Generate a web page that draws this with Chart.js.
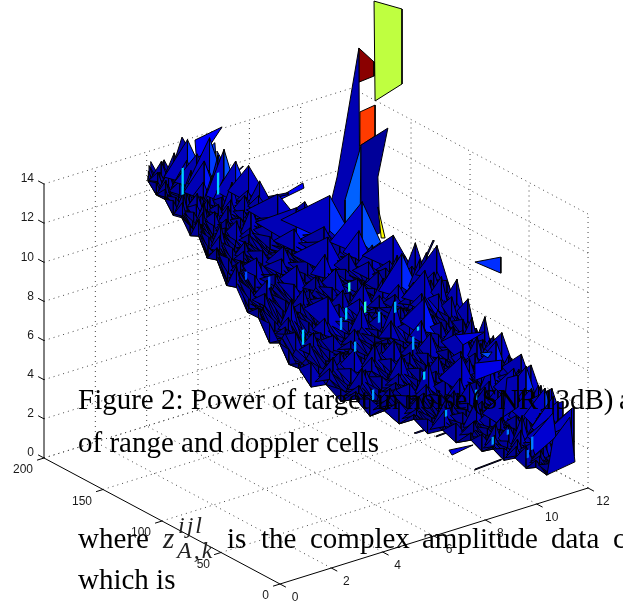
<!DOCTYPE html>
<html>
<head>
<meta charset="utf-8">
<title>Power of target in noise</title>
<script src="https://cdn.jsdelivr.net/npm/chart.js@4"></script>
<style>
  html, body { margin: 0; padding: 0; background: #fff; overflow: hidden; }
  canvas { display: block; }
</style>
</head>
<body>
<canvas id="surfaceChart" width="623" height="606"></canvas>
<script>
/* axis ticks */
const dopplerTicks = [0, 2, 4, 6, 8, 10, 12];
const rangeTicks = [0, 50, 100, 150, 200];
const powerTicks = [0, 2, 4, 6, 8, 10, 12, 14];

/* caption around the figure, cut off at the right edge as in the picture */
const captionFirst = ["Figure 2: Power of target in noise", "(SNR", "13dB)", "a"];
const captionSecond = "of range and doppler cells";
const bodyWords = ["where", "is", "the", "complex", "amplitude", "data", "c"];
const bodySecond = "which is";

/* surface mesh, one entry per range row (back to front) */
const rowRange = [200,195,190,185,180,175,170,165,160,155,150,145,140,135,130,125,120,115,110,105,100,95,90,85,80,75,70,65,60,55,50,45,40,35,30,25];
const rowDopplerLow = [4.05,4.15,4.25,4.35,4.45,4.55,4.65,4.75,4.9,5.05,5.2,5.4,5.6,5.8,5.95,6.1,6.25,6.5,6.85,7.2,7.55,7.87,8.2,8.55,8.9,9.2,9.55,9.85,10.2,10.4,10.6,10.8,11,11.2,11.35,11.55];
const rowDopplerHigh = [4.2,4.45,4.65,4.9,5.1,5.3,5.4,5.55,5.7,5.9,6.1,6.7,7.4,8.14,8.55,8.95,9.4,9.7,9.9,10.1,10.3,10.48,10.65,10.8,11,11.1,11.2,11.3,11.4,11.55,11.7,11.85,12,12.2,12.4,12.6];
const rowFloorLow = [12.5,11.9,11.8,11.1,11.1,10.3,10.4,9.4,9.4,8.2,8.2,7,6.8,5.6,5.7,4.7,4.6,3.7,3.85,3,3.15,2.3,2.6,1.95,2.2,1.5,1.7,1.1,1.25,0.75,0.95,0.45,0.65,0.2,0.35,0.03];
const rowFloorHigh = [12.6,12.7,12.6,12.5,12.5,12.5,12.6,12.5,12.3,12.1,11.9,11.2,10.5,9.8,9.5,9.1,8.6,8.4,8.35,8.3,8.25,8.2,7.5,6.8,6,5.6,5.2,4.85,4.5,4.05,3.6,3.15,2.7,2,1.3,0.6];

/* power above the floor, tenths, 12 doppler cells per row */
const cellPower = [
  [2,4,1,6,3,0,5,2,7,1,4,2],
  [5,1,8,2,0,6,3,9,2,5,0,7],
  [1,7,0,4,9,2,5,1,6,3,12,4],
  [6,2,5,1,3,8,0,10,3,7,2,18],
  [0,9,3,7,1,4,12,2,6,1,14,5],
  [4,1,6,0,10,2,5,3,16,4,8,20],
  [7,3,0,8,2,6,1,11,4,9,3,13],
  [1,6,4,2,9,0,7,3,5,22,6,10],
  [5,0,10,3,1,5,8,2,13,4,17,3],
  [2,8,1,6,4,11,0,6,2,9,5,15],
  [9,3,5,0,7,2,4,12,3,7,1,11],
  [0,6,2,12,1,8,3,1,9,4,14,6],
  [4,1,9,3,5,0,10,5,2,16,3,12],
  [8,5,0,6,2,13,1,7,4,1,10,19],
  [1,3,11,2,8,4,6,0,15,5,8,4],
  [6,9,1,5,0,7,3,11,2,9,3,22],
  [2,0,7,3,14,1,9,4,6,1,12,9],
  [10,4,2,8,1,5,0,12,3,8,5,14],
  [0,7,5,1,6,11,4,2,10,3,11,7],
  [5,2,12,4,0,3,8,1,6,18,4,13],
  [3,8,0,9,5,2,13,6,1,7,12,10],
  [7,1,6,2,11,4,0,9,3,14,5,14],
  [1,5,3,10,0,7,2,16,5,1,12,6],
  [9,0,8,1,6,3,12,0,8,4,10,13],
  [2,6,4,13,2,9,1,5,11,2,7,12],
  [6,3,0,5,8,1,7,3,14,6,12,4],
  [0,10,2,7,3,15,0,8,2,11,5,13],
  [8,1,6,4,12,2,6,1,10,4,11,9],
  [3,5,11,0,5,8,3,13,2,16,6,14],
  [7,0,4,9,1,6,10,0,7,3,12,8],
  [1,8,2,6,14,3,1,9,15,5,10,14],
  [5,3,10,1,4,7,12,4,2,18,6,14],
  [0,6,1,12,2,9,5,16,8,3,12,10],
  [9,2,7,3,11,0,13,3,20,7,10,15],
  [3,0,5,8,1,15,6,22,4,18,9,16],
  [0,4,1,2,6,3,10,5,14,8,20,20]
];

/* the peak and the loose cells, drawn behind the mesh */
const patchRange = [110,110,110,110,110,110,110,110,110,110,110,110,110,110,110,110,60,60,60,30];
const patchLevel = [0.5625,0.99,0.8175,0.05,0.22,0.025,0.625,0.125,0.17,0.17,0.04,0.17,0.12,0.03,0.03,0.03,0.08,0.03,0.1,0.03];
const patchDoppler = [
  [8.72,9.81,9.81,8.76],
  [8.13,8.72,8.72,8.13],
  [8.17,8.76,8.76,8.17],
  [8.13,7.28,7,6.54,8.17],
  [8.21,7.59,7.59,8.17],
  [8.21,9.26,8.87,8.95,8.21],
  [8.87,9.15,9],
  [1.745,2.8,1.82],
  [12.65,13.66,13.66],
  [1.43,2.52,2.6,1.55],
  [1.24,1.86,1.35,0.77],
  [2.6,3.42,2.6],
  [4.86,5.95,5.99,4.94],
  [4.51,5.37,5.37,4.59],
  [3.22,3.61,3.61,3.22],
  [10.63,11.02,11.05,10.67],
  [7.98,8.6,8.68,8.06],
  [8.84,9.26,9.26,8.84],
  [9.34,10.28,9.46],
  [8.97,9.99,9.99,8.97]
];
const patchPower = [
  [22.68,21.83,18,17.56],
  [20.52,19.57,18.85,18.78],
  [17.24,17.35,15.77,15.5],
  [20.52,14.28,12.86,11.72,10.69],
  [15.48,12.98,11.55,10.54],
  [15.53,15.97,13.63,10.74,10.53],
  [12.1,10.4,10.46],
  [18.43,18.67,17.12],
  [7.74,7.58,6.76],
  [17.13,17.98,16.4,15.96],
  [18.79,17.11,15.78,17.04],
  [17.52,15.29,16.4],
  [14.1,14.52,14.24,14],
  [14.39,14.26,14.16,14.26],
  [16.04,16.34,16.29,15.99],
  [8.57,9.53,9.45,8.49],
  [2.52,2.56,2.48,2.47],
  [2.02,2.05,2,1.97],
  [1.09,0.97,0.79],
  [1.24,1.33,1.28,1.19]
];

/* large faces in front of the mesh at the near end */
const frontRange = [60,60,60,60,25,25];
const frontLevel = [0.05,0.1,0.1,0.2,0.08,0.06];
const frontDoppler = [
  [11.6,12.03,12.03,11.45],
  [9.58,10.74,9.89],
  [10.35,11.4,11.4,10.35],
  [10.55,11.02,10.86],
  [10.89,11.78,11.9,11.08],
  [11.55,12.64,12.44,11.78]
];
const frontPower = [
  [3.85,3.83,2.19,1.92],
  [6.88,6.56,6.24],
  [5.12,4.85,4.34,4.24],
  [5.56,5.42,5.18],
  [2.11,3.12,1.85,1.26],
  [0.05,0.27,2.64,1.74]
];

/* narrow bright cells showing through the mesh */
const sliverRange = [110,110,110,110,110,110,110,110,110,110,110,110,110,110,110,60,60,30,30,60,110,110];
const sliverDoppler = [5.91,7.39,7.59,7.94,8.87,9.5,10.2,8.64,12.65,10.63,4.59,3.69,7.71,8.33,10.39,9.18,11,11.16,10.99,11.59,1.22,2.6];
const sliverTop = [7.02,7.03,7.46,5.58,6.73,6.99,4.91,2.84,1.2,2.95,10.27,10.89,8.69,7.46,5.34,3.2,1.07,1.98,1.38,1.2,17.2,16.4];
const sliverBottom = [6.25,6.41,6.85,5.07,6.17,6.42,4.25,2.32,0.68,2.54,9.71,10.48,8.23,6.9,5.14,2.85,0.67,1.32,0.97,0.94,15.84,15.28];
const sliverLevel = [0.33,0.28,0.33,0.28,0.28,0.3,0.28,0.28,0.28,0.33,0.2,0.2,0.42,0.42,0.33,0.28,0.28,0.25,0.22,0.25,0.33,0.33];

/* oblique view of the box: chart x,y from doppler, range, power */
function project(doppler, range, power) {
  return {
    x: 280 + 25.67 * doppler - 1.18 * range,
    y: 584 - 8 * doppler - 0.63 * range - 19.57 * power
  };
}

/* jet colormap */
function jet(t) {
  const c = v => Math.round(255 * Math.min(1, Math.max(0, v)));
  return "rgb(" + c(1.5 - Math.abs(4 * t - 3)) + "," + c(1.5 - Math.abs(4 * t - 2)) + "," + c(1.5 - Math.abs(4 * t - 1)) + ")";
}

function lineSet(a, b, dotted) {
  return {
    data: [a, b],
    showLine: true,
    pointRadius: 0,
    fill: false,
    borderWidth: 1,
    borderColor: dotted ? "#444" : "#000",
    borderDash: dotted ? [1, 4] : []
  };
}

function polySet(points, level) {
  return {
    data: points.concat([points[0]]),
    showLine: true,
    pointRadius: 0,
    tension: 0,
    fill: "shape",
    backgroundColor: jet(level),
    borderColor: "#000",
    borderWidth: 1
  };
}

// painter order: everything is pushed back to front, then reversed for Chart.js
const layers = [];
const topPower = powerTicks[powerTicks.length - 1];
const lastDoppler = dopplerTicks[dopplerTicks.length - 1];
const lastRange = rangeTicks[rangeTicks.length - 1];

powerTicks.forEach(p => {
  layers.push(lineSet(project(0, lastRange, p), project(lastDoppler, lastRange, p), true));
  layers.push(lineSet(project(lastDoppler, 0, p), project(lastDoppler, lastRange, p), true));
});
dopplerTicks.forEach(d => {
  if (d > 0) {
    layers.push(lineSet(project(d, lastRange, 0), project(d, lastRange, topPower), true));
    layers.push(lineSet(project(d, 0, 0), project(d, lastRange, 0), true));
  }
});
rangeTicks.forEach(r => {
  layers.push(lineSet(project(lastDoppler, r, 0), project(lastDoppler, r, topPower), true));
  if (r > 0) layers.push(lineSet(project(0, r, 0), project(lastDoppler, r, 0), true));
});

// solid axes and tick marks
layers.push(lineSet(project(0, lastRange, 0), project(0, lastRange, topPower), false));
layers.push(lineSet(project(0, lastRange, 0), project(0, 0, 0), false));
layers.push(lineSet(project(0, 0, 0), project(lastDoppler, 0, 0), false));
powerTicks.forEach(p => layers.push(lineSet(project(0, lastRange, p), project(0, lastRange + 5, p), false)));
rangeTicks.forEach(r => layers.push(lineSet(project(0, r, 0), project(-0.27, r, 0), false)));
dopplerTicks.forEach(d => layers.push(lineSet(project(d, 0, 0), project(d, -5, 0), false)));

patchDoppler.forEach((us, i) => {
  layers.push(polySet(us.map((u, k) => project(u, patchRange[i], patchPower[i][k])), patchLevel[i]));
});

const colCount = cellPower[0].length;
const rowCount = rowRange.length;

// col may be fractional, lift is in power units above the floor
function floorPoint(row, col, lift) {
  const f = col / (colCount - 1);
  const u = rowDopplerLow[row] + (rowDopplerHigh[row] - rowDopplerLow[row]) * f;
  const floor = rowFloorLow[row] + (rowFloorHigh[row] - rowFloorLow[row]) * f;
  return project(u, rowRange[row], floor + lift);
}

function meshPoint(row, col, k) {
  return floorPoint(row, col, k * cellPower[row][col] / 10);
}

// two facets meeting in an upright edge
function pushPeak(row, col, span, lift, leftLevel, rightLevel) {
  const tip = floorPoint(row, col, lift);
  const foot = floorPoint(row, col, 0);
  if (row >= span) layers.push(polySet([floorPoint(row - span, col, 0), tip, foot], leftLevel));
  if (row + span < rowCount) layers.push(polySet([tip, floorPoint(row + span, col, 0), foot], rightLevel));
}

for (let row = 0; row < rowCount; row++) {
  for (let col = colCount - 1; col >= 0; col--) {
    if (row < rowCount - 1 && col < colCount - 1) {
      const mean = (cellPower[row][col] + cellPower[row][col + 1] + cellPower[row + 1][col] + cellPower[row + 1][col + 1]) / 4;
      layers.push(polySet([meshPoint(row, col, 0.3), meshPoint(row, col + 1, 0.3), meshPoint(row + 1, col + 1, 0.3), meshPoint(row + 1, col, 0.3)], mean / 220));
      // smaller peak between two neighbouring cells
      const step = Math.abs(cellPower[row][col] - cellPower[row][col + 1]);
      if (step >= 3) pushPeak(row, col + 0.5, 1, 0.8 * step / 10, step / 300, step / 190);
    }
    const h = cellPower[row][col];
    if (h >= 1) pushPeak(row, col, h >= 14 ? 2 : 1, 1.25 * h / 10, h / 300, h >= 16 ? h / 110 : h / 190);
  }
}

frontDoppler.forEach((us, i) => {
  layers.push(polySet(us.map((u, k) => project(u, frontRange[i], frontPower[i][k])), frontLevel[i]));
});

sliverDoppler.forEach((u, i) => {
  const r = sliverRange[i];
  layers.push(Object.assign(polySet([
    project(u, r, sliverTop[i]), project(u + 0.09, r, sliverTop[i]),
    project(u + 0.09, r, sliverBottom[i]), project(u, r, sliverBottom[i])
  ], sliverLevel[i]), { borderWidth: 0 }));
});

// tick labels and the page text around the figure
const textPlugin = {
  id: "pageText",
  afterDraw(chart) {
    const ctx = chart.ctx;
    const sx = chart.scales.x, sy = chart.scales.y;
    const at = p => ({ x: sx.getPixelForValue(p.x), y: sy.getPixelForValue(p.y) });
    ctx.save();
    ctx.fillStyle = "#1a1a1a";
    ctx.font = "12px 'Liberation Sans'";
    ctx.textBaseline = "middle";
    ctx.textAlign = "right";
    powerTicks.forEach(p => {
      const q = at(project(0, lastRange, p));
      ctx.fillText(String(p), q.x - 10, q.y - 5);
    });
    rangeTicks.forEach(r => {
      const q = at(project(0, r, 0));
      ctx.fillText(String(r), q.x - 11, q.y + 12);
    });
    ctx.textAlign = "center";
    dopplerTicks.forEach(d => {
      const q = at(project(d, 0, 0));
      ctx.fillText(String(d), q.x + 15, q.y + 14);
    });

    ctx.fillStyle = "#000";
    ctx.textAlign = "left";
    ctx.textBaseline = "alphabetic";
    ctx.font = "29px 'Liberation Serif'";
    const captionX = [78, 472, 541, 619];
    captionFirst.forEach((w, i) => ctx.fillText(w, captionX[i], 409));
    ctx.fillText(captionSecond, 78, 452);
    const wordX = [78, 227, 261, 310, 422, 551, 613];
    bodyWords.forEach((w, i) => ctx.fillText(w, wordX[i], 548));
    ctx.fillText(bodySecond, 78, 589);
    ctx.font = "italic 29px 'Liberation Serif'";
    ctx.fillStyle = "#222";
    ctx.fillText("z", 163, 548);
    ctx.font = "italic 24px 'Liberation Serif'";
    ctx.letterSpacing = "2px";
    ctx.fillText("ijl", 178, 533);
    ctx.fillText("A,k", 177, 558);
    ctx.restore();
  }
};

new Chart(document.getElementById("surfaceChart"), {
  type: "scatter",
  data: { datasets: layers.reverse() },
  options: {
    responsive: false,
    animation: false,
    events: [],
    layout: { padding: 0 },
    plugins: { legend: { display: false }, tooltip: { enabled: false } },
    scales: {
      x: { type: "linear", display: false, min: 0, max: 623 },
      y: { type: "linear", display: false, min: 0, max: 606, reverse: true }
    }
  },
  plugins: [textPlugin]
});
</script>
</body>
</html>
